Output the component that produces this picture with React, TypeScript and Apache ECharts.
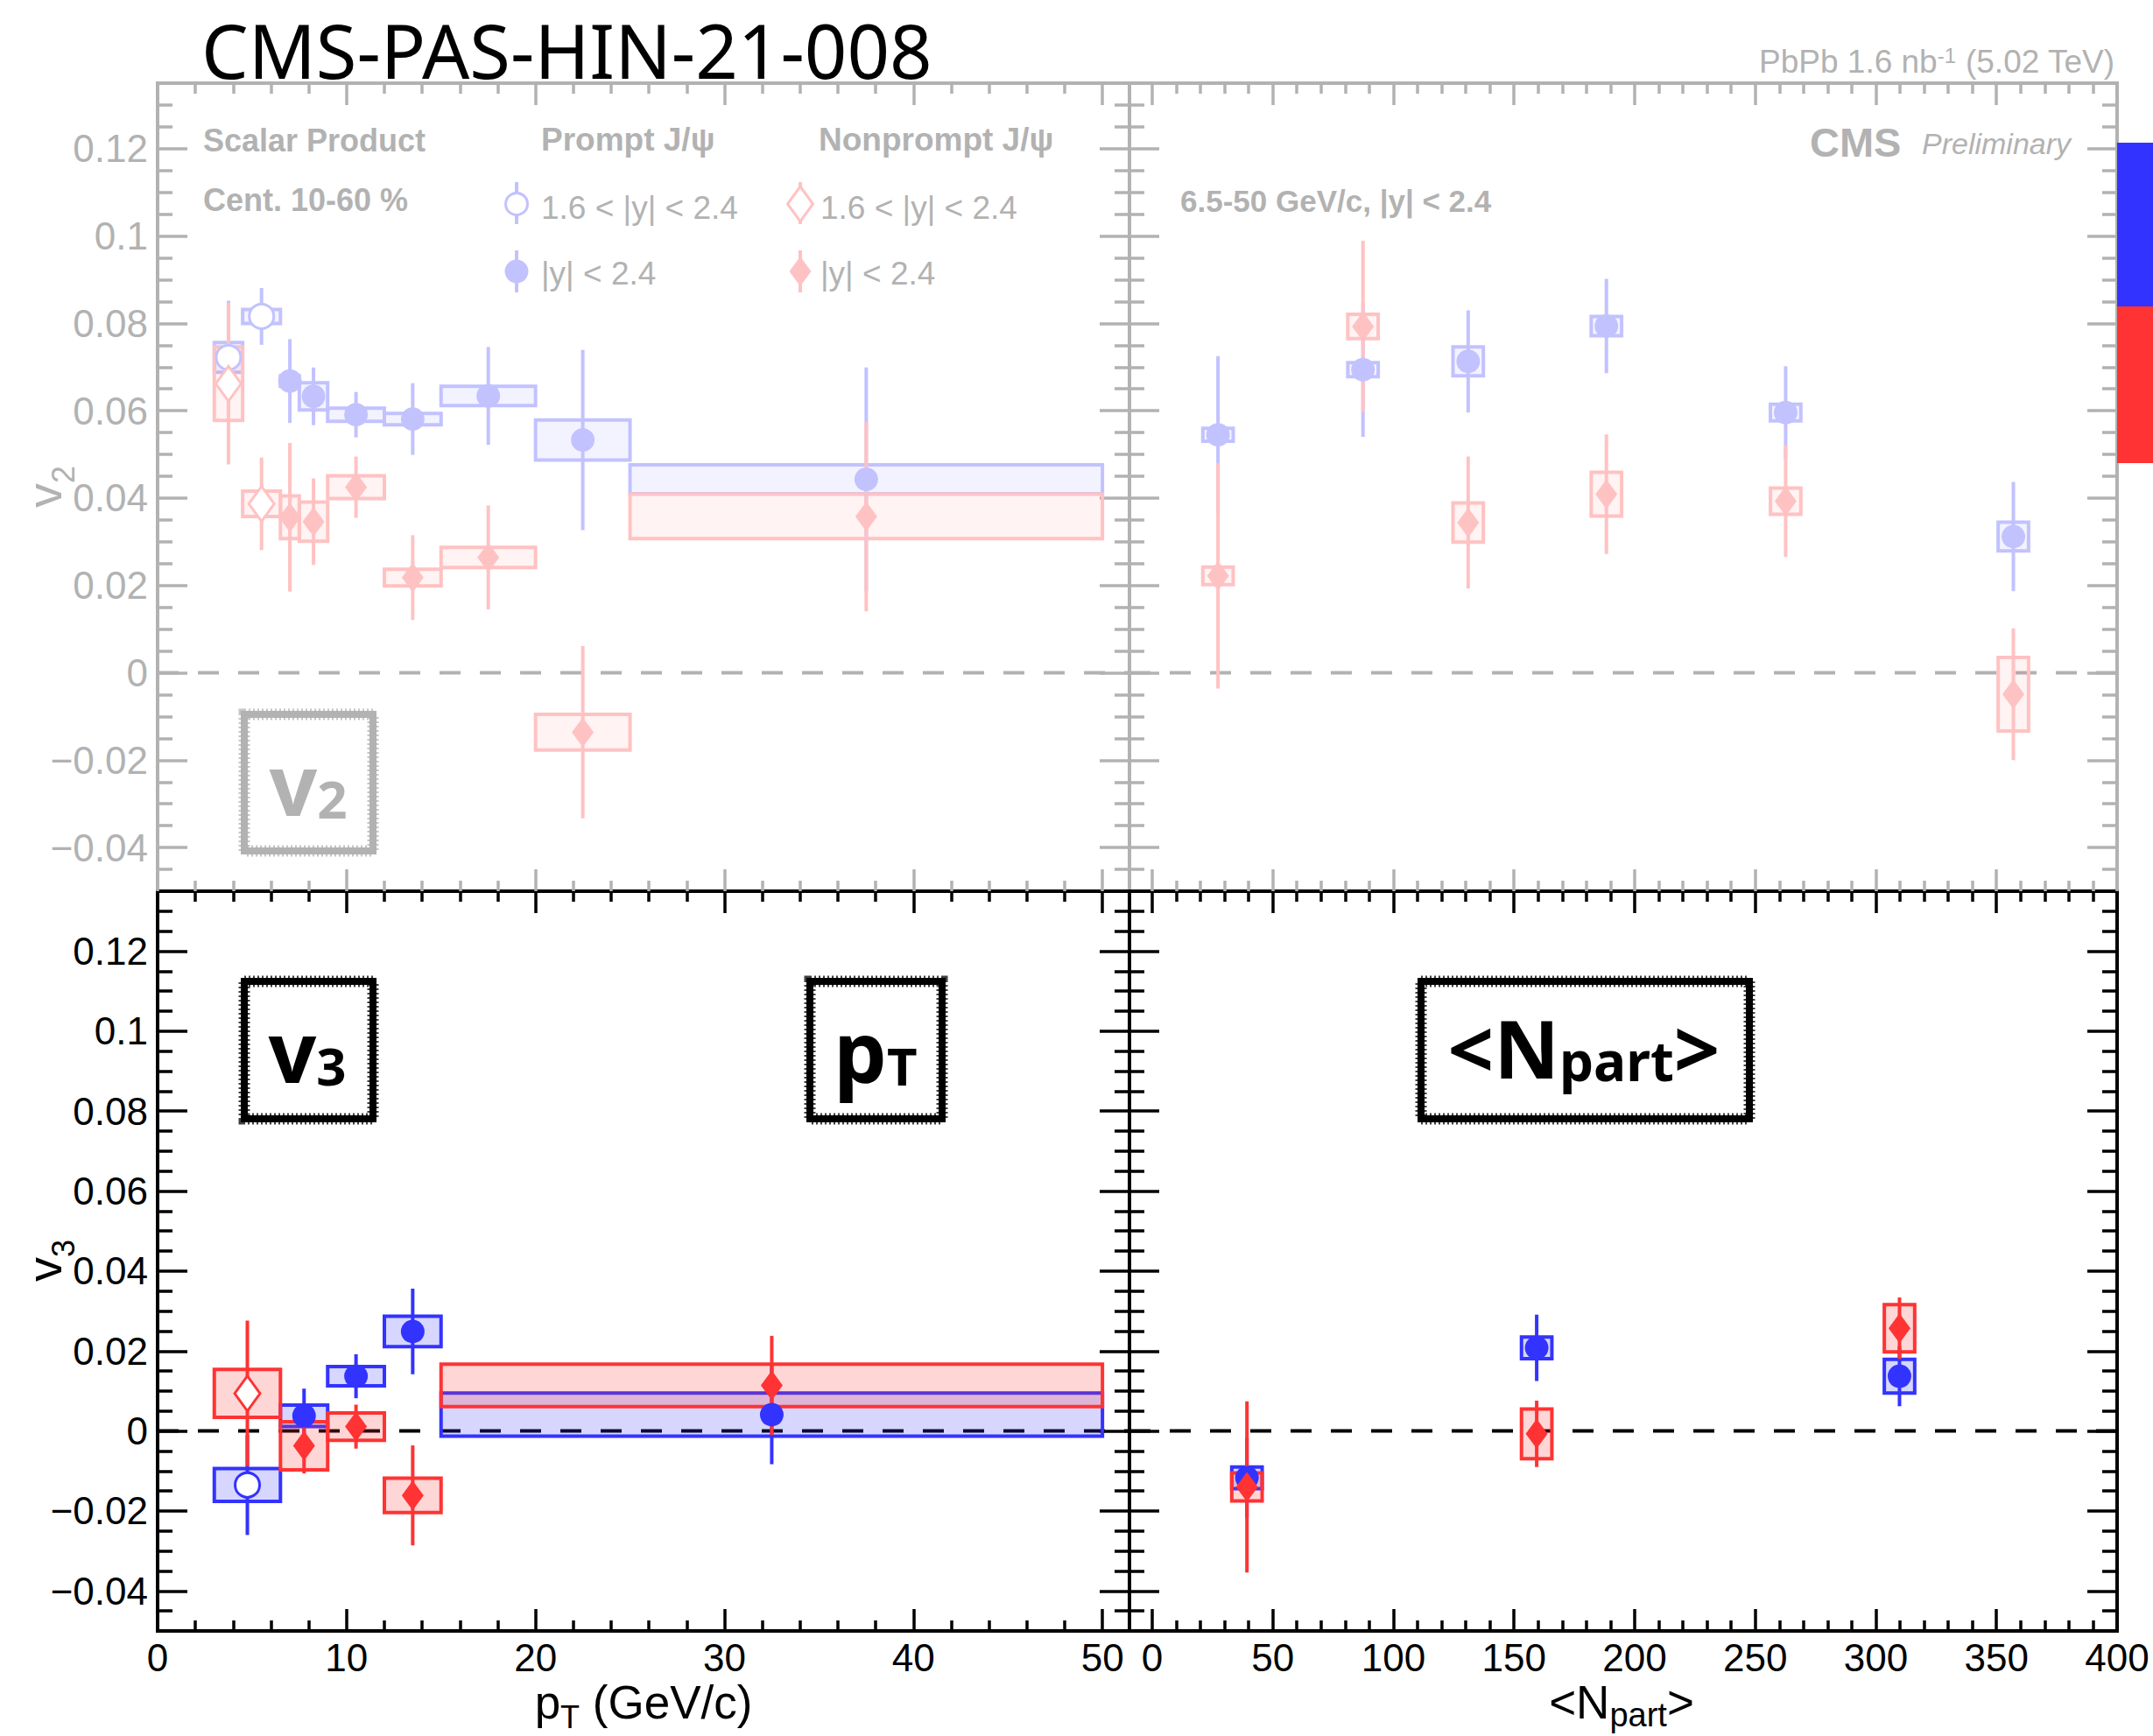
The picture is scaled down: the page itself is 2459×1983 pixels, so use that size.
import React, { useEffect, useRef } from "react";
import * as echarts from "echarts";

const W = 2459;
const H = 1983;

// ---------------- data ----------------
// rows: [x, xLow, xHigh, value, statErr, systErr]
const v2PtPromptFwd = [
  [3.75, 3, 4.5, 0.0722, 0.013, 0.0034],
  [5.5, 4.5, 6.5, 0.0816, 0.0065, 0.0016],
];
const v2PtPromptAll = [
  [7.0, 6.5, 7.5, 0.0668, 0.0096, 0.0012],
  [8.25, 7.5, 9, 0.0633, 0.0066, 0.0031],
  [10.5, 9, 12, 0.0591, 0.0052, 0.0015],
  [13.5, 12, 15, 0.0581, 0.0082, 0.0013],
  [17.5, 15, 20, 0.0634, 0.0112, 0.0022],
  [22.5, 20, 25, 0.0533, 0.0206, 0.0046],
  [37.5, 25, 50, 0.0443, 0.0256, 0.0033],
];
const v2PtNonpromptFwd = [
  [3.75, 3, 4.5, 0.0662, 0.0185, 0.0084],
  [5.5, 4.5, 6.5, 0.0387, 0.0106, 0.0029],
];
const v2PtNonpromptAll = [
  [7.0, 6.5, 7.5, 0.0356, 0.017, 0.0049],
  [8.25, 7.5, 9, 0.0346, 0.0099, 0.0045],
  [10.5, 9, 12, 0.0425, 0.007, 0.0026],
  [13.5, 12, 15, 0.0218, 0.0097, 0.0019],
  [17.5, 15, 20, 0.0264, 0.0119, 0.0023],
  [22.5, 20, 25, -0.0136, 0.0197, 0.0041],
  [37.5, 25, 50, 0.0358, 0.0217, 0.0051],
];

const v3PtPromptFwd = [[4.75, 3, 6.5, -0.0135, 0.0125, 0.0041]];
const v3PtPromptAll = [
  [7.75, 6.5, 9, 0.0038, 0.0068, 0.0027],
  [10.5, 9, 12, 0.0137, 0.0055, 0.0024],
  [13.5, 12, 15, 0.0249, 0.0107, 0.0038],
  [32.5, 15, 50, 0.0041, 0.0124, 0.0054],
];
const v3PtNonpromptFwd = [[4.75, 3, 6.5, 0.0094, 0.0182, 0.006]];
const v3PtNonpromptAll = [
  [7.75, 6.5, 9, -0.0037, 0.0069, 0.006],
  [10.5, 9, 12, 0.0011, 0.0055, 0.0034],
  [13.5, 12, 15, -0.0161, 0.0125, 0.0043],
  [32.5, 15, 50, 0.0114, 0.0124, 0.0053],
];

// Npart: [value, statErr, systErr]
const npartV2 = [27.3, 87.4, 131, 188.3, 262.6, 357];
const v2NpartPrompt = [
  [0.0545, 0.018, 0.0015],
  [0.0694, 0.0154, 0.0016],
  [0.0713, 0.0117, 0.0033],
  [0.0794, 0.0108, 0.0022],
  [0.0596, 0.0106, 0.0019],
  [0.0312, 0.0125, 0.0033],
];
const v2NpartNonprompt = [
  [0.0222, 0.0258, 0.002],
  [0.0793, 0.0196, 0.0028],
  [0.0344, 0.0151, 0.0045],
  [0.0409, 0.0137, 0.005],
  [0.0393, 0.0128, 0.003],
  [-0.0049, 0.0151, 0.0084],
];
const npartV3 = [39.3, 159.4, 309.8];
const v3NpartPrompt = [
  [-0.0117, 0.01, 0.0027],
  [0.0208, 0.0083, 0.0027],
  [0.0137, 0.0075, 0.0042],
];
const v3NpartNonprompt = [
  [-0.014, 0.0214, 0.0035],
  [-0.0007, 0.0083, 0.0062],
  [0.0257, 0.0077, 0.0059],
];

// ticks
const yMajorTicks = [-0.04, -0.02, 0, 0.02, 0.04, 0.06, 0.08, 0.1, 0.12];
const ptMajorTicks = [0, 10, 20, 30, 40, 50];
const npartMajorTicks = [0, 50, 100, 150, 200, 250, 300, 350, 400];

// ---------------- style ----------------
const Y_RANGE = [-0.05, 0.135];
const PT_RANGE = [0, 51.43];
const NPART_RANGE = [-9.4, 400];
const NPART_HALF = 6.3;

const FONT = "'Liberation Sans', Arial, Helvetica, sans-serif";
const NOTO = "'Noto Sans', 'Open Sans', sans-serif";
const GRAY = "#b2b2b2";
const BLACK = "#000000";
const TICK_W = 3.5;

const PAL_TOP = {
  axis: GRAY,
  prompt: { line: "#c2c2ff", fill: "rgba(51,51,255,0.06)" },
  np: { line: "#ffc2c2", fill: "rgba(255,51,51,0.06)" },
};
const PAL_BOT = {
  axis: BLACK,
  prompt: { line: "#3333ff", fill: "rgba(51,51,255,0.2)" },
  np: { line: "#ff3333", fill: "rgba(255,51,51,0.2)" },
};

function minorTicks(lo: number, hi: number, step: number, majors: number[]) {
  const out: number[] = [];
  const n0 = Math.ceil(lo / step - 1e-9);
  const n1 = Math.floor(hi / step + 1e-9);
  for (let i = n0; i <= n1; i++) {
    const v = +(i * step).toFixed(6);
    if (v <= lo + 1e-9 || v >= hi - 1e-9) continue;
    if (majors.some((m) => Math.abs(m - v) < 1e-9)) continue;
    out.push(v);
  }
  return out;
}

const yFmt = (v: number) => {
  const s = String(+v.toFixed(3));
  return v < 0 ? "\u2212" + s.slice(1) : s;
};

function makeX(grid: number, range: number[], majors: number[], minors: number[], color: string, showLabels: boolean) {
  const base = (pos: string) => ({
    type: "value",
    gridIndex: grid,
    position: pos,
    min: range[0],
    max: range[1],
    axisLine: { show: false, onZero: false },
    splitLine: { show: false },
    silent: true,
  });
  const tick = (len: number, vals: number[]) => ({
    show: true,
    inside: true,
    length: len,
    customValues: vals,
    lineStyle: { color, width: TICK_W },
  });
  return [
    {
      ...base("bottom"),
      axisTick: tick(25, majors),
      axisLabel: {
        show: showLabels,
        customValues: majors,
        margin: 10,
        color,
        fontSize: 44,
        lineHeight: 40,
        fontFamily: FONT,
        formatter: (v: number) => String(v),
      },
    },
    { ...base("bottom"), axisTick: tick(12, minors), axisLabel: { show: false } },
    { ...base("top"), axisTick: tick(25, majors), axisLabel: { show: false } },
    { ...base("top"), axisTick: tick(12, minors), axisLabel: { show: false } },
  ];
}

function makeY(grid: number, color: string, showLabels: boolean) {
  const majors = yMajorTicks;
  const minors = minorTicks(Y_RANGE[0], Y_RANGE[1], 0.005, majors);
  const base = (pos: string) => ({
    type: "value",
    gridIndex: grid,
    position: pos,
    min: Y_RANGE[0],
    max: Y_RANGE[1],
    axisLine: { show: false, onZero: false },
    splitLine: { show: false },
    silent: true,
  });
  const tick = (len: number, vals: number[]) => ({
    show: true,
    inside: true,
    length: len,
    customValues: vals,
    lineStyle: { color, width: TICK_W },
  });
  return [
    {
      ...base("left"),
      axisTick: tick(34, majors),
      axisLabel: {
        show: showLabels,
        customValues: majors,
        margin: 11,
        color,
        fontSize: 44,
        fontFamily: FONT,
        formatter: yFmt,
      },
    },
    { ...base("left"), axisTick: tick(17, minors), axisLabel: { show: false } },
    { ...base("right"), axisTick: tick(34, majors), axisLabel: { show: false } },
    { ...base("right"), axisTick: tick(17, minors), axisLabel: { show: false } },
  ];
}

type Group = { rows: number[][]; kind: "prompt" | "np"; open: boolean; shape: "circle" | "diamond" };

function panelSeries(g: number, xr: number[], pal: any, groups: Group[]) {
  const xi = g * 4;
  const yi = g * 4;
  const out: any[] = [];
  out.push({
    type: "line",
    xAxisIndex: xi,
    yAxisIndex: yi,
    data: [
      [xr[0], 0],
      [xr[1], 0],
    ],
    symbol: "none",
    silent: true,
    z: 1,
    lineStyle: { color: pal.axis, width: 4, type: [24, 22] },
  });
  for (const grp of groups) {
    const c = pal[grp.kind];
    out.push({
      type: "custom",
      xAxisIndex: xi,
      yAxisIndex: yi,
      z: 2,
      silent: true,
      encode: { x: [0, 1], y: [2, 3] },
      data: grp.rows.map((r) => [r[1], r[2], r[3] - r[5], r[3] + r[5]]),
      renderItem: (_p: any, api: any) => {
        const a = api.coord([api.value(0), api.value(3)]);
        const b = api.coord([api.value(1), api.value(2)]);
        return {
          type: "rect",
          shape: { x: a[0], y: a[1], width: b[0] - a[0], height: b[1] - a[1] },
          style: { fill: c.fill, stroke: c.line, lineWidth: 4 },
        };
      },
    });
  }
  for (const grp of groups) {
    const c = pal[grp.kind];
    out.push({
      type: "custom",
      xAxisIndex: xi,
      yAxisIndex: yi,
      z: 3,
      silent: true,
      encode: { x: 0, y: [1, 2] },
      data: grp.rows.map((r) => [r[0], r[3] - r[4], r[3] + r[4]]),
      renderItem: (_p: any, api: any) => {
        const a = api.coord([api.value(0), api.value(1)]);
        const b = api.coord([api.value(0), api.value(2)]);
        return {
          type: "line",
          shape: { x1: a[0], y1: a[1], x2: b[0], y2: b[1] },
          style: { stroke: c.line, lineWidth: 4 },
        };
      },
    });
  }
  for (const grp of groups) {
    const c = pal[grp.kind];
    const size =
      grp.shape === "circle" ? (grp.open ? 28 : 27) : grp.open ? [29, 40] : [25, 34];
    out.push({
      type: "scatter",
      xAxisIndex: xi,
      yAxisIndex: yi,
      z: 4,
      silent: true,
      symbol: grp.shape,
      symbolSize: size,
      data: grp.rows.map((r) => [r[0], r[3]]),
      itemStyle: grp.open
        ? { color: "#ffffff", borderColor: c.line, borderWidth: 3, opacity: 1 }
        : { color: c.line, opacity: 1 },
    });
  }
  return out;
}

const npartRows = (ns: number[], vals: number[][]) =>
  ns.map((n, i) => [n, n - NPART_HALF, n + NPART_HALF, vals[i][0], vals[i][1], vals[i][2]]);

function txt(x: number, y: number, text: string, o: any = {}) {
  return {
    type: "text",
    x,
    y,
    silent: true,
    rotation: o.rotation || 0,
    z: 10,
    style: {
      text,
      fill: o.fill || BLACK,
      fontSize: o.fontSize || 36,
      fontFamily: o.fontFamily || FONT,
      fontWeight: o.fontWeight || "normal",
      fontStyle: o.fontStyle || "normal",
      align: o.align || "left",
      verticalAlign: o.verticalAlign || "middle",
      lineHeight: o.lineHeight,
      rich: o.rich,
    },
  };
}

function roughBox(x0: number, y0: number, x1: number, y1: number, color: string) {
  const shape = { x: x0 + 5, y: y0 + 5, width: x1 - x0 - 10, height: y1 - y0 - 10 };
  return [
    { type: "rect", silent: true, z: 10, shape, style: { fill: "none", stroke: color, lineWidth: 8 } },
    {
      type: "rect",
      silent: true,
      z: 10,
      shape,
      style: { fill: "none", stroke: color, lineWidth: 13, lineDash: [2, 3], opacity: 0.75 },
    },
  ];
}

// rich-text helper: main token centred in a taller line, subscript bottom-aligned => lowered
function subRich(main: number, sub: number, fam: string, color: string, weight: string, lower: number) {
  return {
    a: { fontSize: main, fontFamily: fam, fontWeight: weight, fill: color, lineHeight: main + 2 * lower },
    s: { fontSize: sub, fontFamily: fam, fontWeight: weight, fill: color, verticalAlign: "bottom", lineHeight: sub },
  };
}

function buildOption() {
  const ptMinor = minorTicks(PT_RANGE[0], PT_RANGE[1], 2, ptMajorTicks);
  const npMinor = minorTicks(NPART_RANGE[0], NPART_RANGE[1], 10, npartMajorTicks);

  const gridBase = { show: true, borderWidth: 4, containLabel: false, outerBoundsMode: "none", backgroundColor: "transparent" };
  const grid = [
    { ...gridBase, left: 180, top: 95, width: 1110, height: 923, borderColor: GRAY },
    { ...gridBase, left: 1290, top: 95, width: 1128, height: 923, borderColor: GRAY },
    { ...gridBase, left: 180, top: 1018, width: 1110, height: 845, borderColor: BLACK },
    { ...gridBase, left: 1290, top: 1018, width: 1128, height: 845, borderColor: BLACK },
  ];

  const xAxis = [
    ...makeX(0, PT_RANGE, ptMajorTicks, ptMinor, GRAY, false),
    ...makeX(1, NPART_RANGE, npartMajorTicks, npMinor, GRAY, false),
    ...makeX(2, PT_RANGE, ptMajorTicks, ptMinor, BLACK, true),
    ...makeX(3, NPART_RANGE, npartMajorTicks, npMinor, BLACK, true),
  ];
  const yAxis = [...makeY(0, GRAY, true), ...makeY(1, GRAY, false), ...makeY(2, BLACK, true), ...makeY(3, BLACK, false)];

  const series = [
    ...panelSeries(0, PT_RANGE, PAL_TOP, [
      { rows: v2PtPromptFwd, kind: "prompt", open: true, shape: "circle" },
      { rows: v2PtPromptAll, kind: "prompt", open: false, shape: "circle" },
      { rows: v2PtNonpromptFwd, kind: "np", open: true, shape: "diamond" },
      { rows: v2PtNonpromptAll, kind: "np", open: false, shape: "diamond" },
    ]),
    ...panelSeries(1, NPART_RANGE, PAL_TOP, [
      { rows: npartRows(npartV2, v2NpartPrompt), kind: "prompt", open: false, shape: "circle" },
      { rows: npartRows(npartV2, v2NpartNonprompt), kind: "np", open: false, shape: "diamond" },
    ]),
    ...panelSeries(2, PT_RANGE, PAL_BOT, [
      { rows: v3PtPromptFwd, kind: "prompt", open: true, shape: "circle" },
      { rows: v3PtPromptAll, kind: "prompt", open: false, shape: "circle" },
      { rows: v3PtNonpromptFwd, kind: "np", open: true, shape: "diamond" },
      { rows: v3PtNonpromptAll, kind: "np", open: false, shape: "diamond" },
    ]),
    ...panelSeries(3, NPART_RANGE, PAL_BOT, [
      { rows: npartRows(npartV3, v3NpartPrompt), kind: "prompt", open: false, shape: "circle" },
      { rows: npartRows(npartV3, v3NpartNonprompt), kind: "np", open: false, shape: "diamond" },
    ]),
  ];

  const bF = PAL_TOP.prompt.line;
  const rF = PAL_TOP.np.line;
  const elements: any[] = [
    txt(230, 57, "CMS-PAS-HIN-21-008", { fontSize: 85, fontFamily: NOTO, lineHeight: 85 }),
    txt(2415, 70, "{a|PbPb 1.6 nb}{s|-1}{a| (5.02 TeV)}", {
      align: "right",
      fill: GRAY,
      fontSize: 37,
      rich: {
        a: { fontSize: 37, fontFamily: FONT, fill: GRAY },
        s: { fontSize: 24, fontFamily: FONT, fill: GRAY, verticalAlign: "top" },
      },
    }),
    txt(2067, 162, "CMS", { fontSize: 47, fontWeight: "bold", fill: GRAY }),
    txt(2195, 164, "Preliminary", { fontSize: 34, fontStyle: "italic", fill: GRAY }),
    txt(1348, 229, "6.5-50 GeV/c, |y| < 2.4", { fontSize: 35, fontWeight: "bold", fill: GRAY }),
    txt(232, 160, "Scalar Product", { fontSize: 36, fontWeight: "bold", fill: GRAY }),
    txt(232, 228, "Cent. 10-60 %", { fontSize: 36, fontWeight: "bold", fill: GRAY }),
    txt(618, 159, "Prompt J/\u03c8", { fontSize: 37, fontWeight: "bold", fill: GRAY }),
    txt(935, 159, "Nonprompt J/\u03c8", { fontSize: 37, fontWeight: "bold", fill: GRAY }),
    txt(618, 237, "1.6 < |y| < 2.4", { fontSize: 37, fill: GRAY }),
    txt(618, 312, "|y| < 2.4", { fontSize: 37, fill: GRAY }),
    txt(937, 237, "1.6 < |y| < 2.4", { fontSize: 37, fill: GRAY }),
    txt(937, 312, "|y| < 2.4", { fontSize: 37, fill: GRAY }),
    // legend markers
    { type: "line", silent: true, z: 10, shape: { x1: 590, y1: 208, x2: 590, y2: 256 }, style: { stroke: bF, lineWidth: 4 } },
    { type: "circle", silent: true, z: 11, shape: { cx: 590, cy: 233, r: 12.5 }, style: { fill: "#fff", stroke: bF, lineWidth: 3 } },
    { type: "line", silent: true, z: 10, shape: { x1: 590, y1: 286, x2: 590, y2: 334 }, style: { stroke: bF, lineWidth: 4 } },
    { type: "circle", silent: true, z: 11, shape: { cx: 590, cy: 310, r: 13.5 }, style: { fill: bF } },
    { type: "line", silent: true, z: 10, shape: { x1: 914, y1: 208, x2: 914, y2: 256 }, style: { stroke: rF, lineWidth: 4 } },
    {
      type: "polygon",
      silent: true,
      z: 11,
      shape: { points: [[914, 213], [928.5, 233], [914, 253], [899.5, 233]] },
      style: { fill: "#fff", stroke: rF, lineWidth: 3 },
    },
    { type: "line", silent: true, z: 10, shape: { x1: 914, y1: 286, x2: 914, y2: 334 }, style: { stroke: rF, lineWidth: 4 } },
    {
      type: "polygon",
      silent: true,
      z: 11,
      shape: { points: [[914, 293], [926.5, 310], [914, 327], [901.5, 310]] },
      style: { fill: rF },
    },
    // rough label boxes
    ...roughBox(274, 811, 431, 977, GRAY),
    ...roughBox(274, 1116, 431, 1283, BLACK),
    ...roughBox(920, 1116, 1081, 1283, BLACK),
    ...roughBox(1618, 1116, 2003, 1283, BLACK),
    txt(352, 894, "{a|v}{s|2}", {
      align: "center",
      rich: {
        a: { fontSize: 96, fontFamily: NOTO, fontWeight: "bold", fill: GRAY },
        s: { fontSize: 60, fontFamily: NOTO, fontWeight: "bold", fill: GRAY, verticalAlign: "bottom" },
      },
    }),
    txt(351, 1199, "{a|v}{s|3}", {
      align: "center",
      rich: {
        a: { fontSize: 96, fontFamily: NOTO, fontWeight: "bold", fill: BLACK },
        s: { fontSize: 60, fontFamily: NOTO, fontWeight: "bold", fill: BLACK, verticalAlign: "bottom" },
      },
    }),
    txt(1000, 1199, "{a|p}{s|T}", {
      align: "center",
      rich: {
        a: { fontSize: 96, fontFamily: NOTO, fontWeight: "bold", fill: BLACK },
        s: { fontSize: 60, fontFamily: NOTO, fontWeight: "bold", fill: BLACK, verticalAlign: "bottom" },
      },
    }),
    txt(1809, 1196, "{a|<N}{s|part}{a|>}", {
      align: "center",
      rich: {
        a: { fontSize: 92, fontFamily: NOTO, fontWeight: "bold", fill: BLACK },
        s: { fontSize: 62, fontFamily: NOTO, fontWeight: "bold", fill: BLACK, verticalAlign: "bottom" },
      },
    }),
    // axis titles
    txt(50, 556, "{a|v}{s|2}", {
      align: "center",
      rotation: Math.PI / 2,
      rich: subRich(56, 36, FONT, GRAY, "normal", 12),
    }),
    txt(50, 1440, "{a|v}{s|3}", {
      align: "center",
      rotation: Math.PI / 2,
      rich: subRich(56, 36, FONT, BLACK, "normal", 12),
    }),
    txt(735, 1944, "{a|p}{s|T}{a| (GeV/c)}", {
      align: "center",
      rich: subRich(53, 36, FONT, BLACK, "normal", 8.5),
    }),
    txt(1852, 1944, "{a|<N}{s|part}{a|>}", {
      align: "center",
      rich: subRich(53, 38, FONT, BLACK, "normal", 7),
    }),
    // colour bar at right edge
    { type: "rect", silent: true, z: 10, shape: { x: 2418, y: 163, width: 41, height: 187 }, style: { fill: "#3333ff" } },
    { type: "rect", silent: true, z: 10, shape: { x: 2418, y: 350, width: 41, height: 179 }, style: { fill: "#ff3333" } },
  ];

  return {
    animation: false,
    backgroundColor: "#ffffff",
    grid,
    xAxis,
    yAxis,
    series,
    graphic: { elements },
  };
}

export default function App() {
  const ref = useRef<HTMLDivElement>(null);
  useEffect(() => {
    document.body.style.margin = "0";
    const chart = echarts.init(ref.current as HTMLDivElement, null, { renderer: "svg", width: W, height: H });
    chart.setOption(buildOption() as any);
    return () => chart.dispose();
  }, []);
  return <div ref={ref} style={{ width: W, height: H }} />;
}
